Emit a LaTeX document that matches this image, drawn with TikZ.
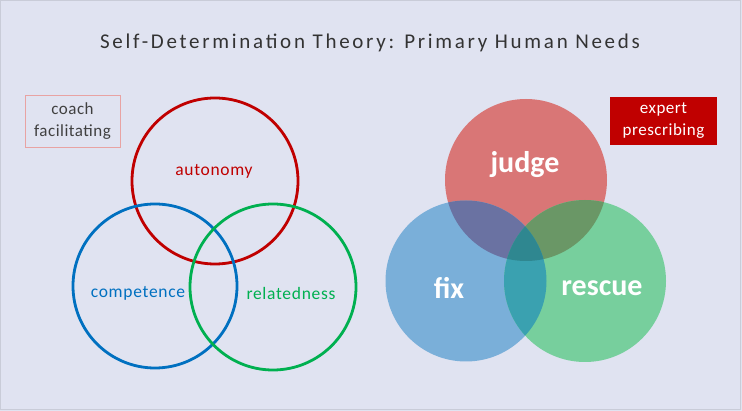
\documentclass[tikz,border=0pt]{standalone}
\usepackage{fontspec}
\setmainfont{Carlito}
\definecolor{bg}{HTML}{E0E3F1}
\definecolor{frame}{HTML}{C9CCD8}
\definecolor{titlegray}{HTML}{333333}
\definecolor{boxgray}{HTML}{404040}
\definecolor{autored}{HTML}{C00000}
\definecolor{compblue}{HTML}{0070C0}
\definecolor{relgreen}{HTML}{00B050}
\definecolor{coachborder}{HTML}{E8A3A3}
\definecolor{judgefill}{HTML}{D97676}
\definecolor{fixfill}{HTML}{7AAFD9}
\definecolor{rescuefill}{HTML}{77CF9D}
\definecolor{jfx}{HTML}{6A72A2}
\definecolor{jrs}{HTML}{6A9766}
\definecolor{frs}{HTML}{3AA1B0}
\definecolor{allthree}{HTML}{2F8790}
\tikzset{
  ring/.style={circle, line width=2.8pt, minimum size=#1, inner sep=0pt},
  needlabel/.style={font=\fontsize{17.5}{20}\selectfont\addfontfeature{LetterSpace=4}},
  biglabel/.style={font=\fontsize{30}{34}\selectfont\bfseries, text=white},
  boxlabel/.style={font=\fontsize{17}{22}\selectfont\addfontfeature{LetterSpace=3}, align=center, inner sep=0pt}
}
\begin{document}
\begin{tikzpicture}[x=1pt,y=-1pt]
\useasboundingbox (0,0) rectangle (742,411);
\fill[bg] (0,0) rectangle (742,411);
\draw[frame, line width=0.8pt] (0.8,0.8) rectangle (740.5,409.5);
% title
\node[text=titlegray, font=\fontsize{21}{24}\selectfont\addfontfeature{LetterSpace=13}] (title) at (370,43) {Self-Determination Theory: Primary Human Needs};
% coach box
\node[draw=coachborder, line width=0.8pt, minimum width=95pt, minimum height=52pt, inner sep=0pt] (coach) at (72.5,121) {};
\node[boxlabel, text=boxgray] (coachtxt) at (coach.center) {coach\\facilitating};
% expert box
\node[fill=autored, minimum width=107pt, minimum height=48pt, inner sep=0pt] (expert) at (663.5,121) {};
\node[boxlabel, text=white] (experttxt) at (expert.center) {expert\\prescribing};
% left venn
\node[ring=166pt, draw=autored] (auto) at (215,181) {};
\node[ring=164pt, draw=compblue] (comp) at (155,286) {};
\node[ring=166pt, draw=relgreen] (rel) at (273,287) {};
\node[needlabel, text=autored] (autotxt) at (214,171) {autonomy};
\node[needlabel, text=compblue] (comptxt) at (138,293) {competence};
\node[needlabel, text=relgreen] (reltxt) at (291,293) {relatedness};
% right venn
\fill[judgefill] (526,180) circle (81);
\fill[fixfill] (466,281) circle (80.5);
\fill[rescuefill] (585,281) circle (81);
\begin{scope}
  \clip (526,180) circle (81);
  \fill[jfx] (466,281) circle (80.5);
  \fill[jrs] (585,281) circle (81);
\end{scope}
\begin{scope}
  \clip (466,281) circle (80.5);
  \fill[frs] (585,281) circle (81);
  \clip (585,281) circle (81);
  \fill[allthree] (526,180) circle (81);
\end{scope}
\node[biglabel] (judge) at (525,165) {judge};
\node[biglabel] (fix) at (449,288) {fix};
\node[biglabel] (rescue) at (602,288) {rescue};
\end{tikzpicture}
\end{document}
